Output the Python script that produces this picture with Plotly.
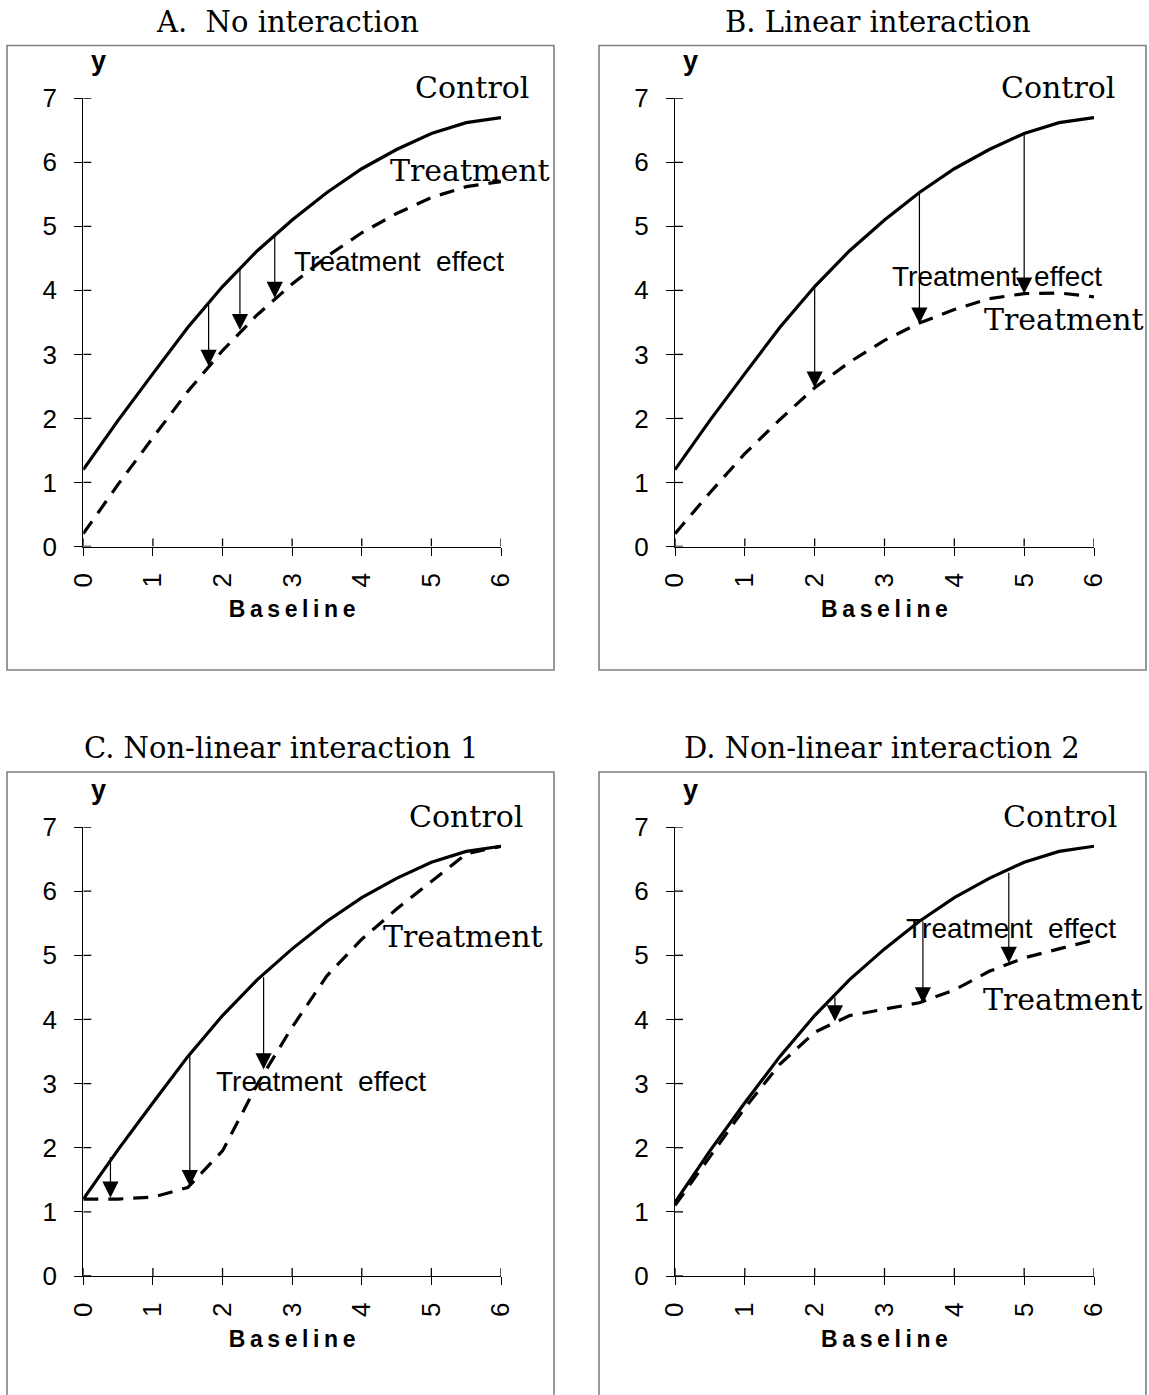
import plotly.graph_objects as go

# ---------------- data ----------------
baseline = [0, 0.5, 1, 1.5, 2, 2.5, 3, 3.5, 4, 4.5, 5, 5.5, 6]
control = [1.2, 1.97, 2.7, 3.42, 4.06, 4.62, 5.1, 5.53, 5.9, 6.2, 6.45, 6.62, 6.7]
control_d = [1.15, 1.95, 2.7, 3.42, 4.06, 4.62, 5.1, 5.53, 5.9, 6.2, 6.45, 6.62, 6.7]

treat_a = [0.2, 0.97, 1.7, 2.42, 3.06, 3.62, 4.1, 4.53, 4.9, 5.2, 5.45, 5.62, 5.7]
treat_b = [0.2, 0.84, 1.45, 1.98, 2.48, 2.88, 3.22, 3.49, 3.7, 3.87, 3.95, 3.96, 3.9]
treat_c = [1.2, 1.2, 1.23, 1.38, 1.95, 2.99, 3.88, 4.68, 5.25, 5.72, 6.15, 6.58, 6.7]
treat_d = [1.1, 1.86, 2.62, 3.3, 3.8, 4.06, 4.16, 4.26, 4.46, 4.75, 4.96, 5.1, 5.24]

# arrows: x position, start (control), tip (treatment)
arrows_a_x = [1.8, 2.25, 2.75]
arrows_a_top = [3.82, 4.36, 4.86]
arrows_a_tip = [2.82, 3.38, 3.88]

arrows_b_x = [2.0, 3.5, 5.0]
arrows_b_top = [4.06, 5.55, 6.45]
arrows_b_tip = [2.48, 3.48, 3.95]

arrows_c_x = [0.39, 1.53, 2.59]
arrows_c_top = [1.88, 3.47, 4.68]
arrows_c_tip = [1.22, 1.4, 3.22]

arrows_d_x = [2.29, 3.55, 4.78]
arrows_d_top = [4.37, 5.55, 6.31]
arrows_d_tip = [3.97, 4.25, 4.88]

titles = ["A.  No interaction", "B. Linear interaction",
          "C. Non-linear interaction 1", "D. Non-linear interaction 2"]
x_ticks = [0, 1, 2, 3, 4, 5, 6]
y_ticks = [0, 1, 2, 3, 4, 5, 6, 7]
Y_MAX = 7

panels = [
    dict(ctrl=control, trt=treat_a, ax=arrows_a_x, at=arrows_a_top, ap=arrows_a_tip,
         ctrl_lbl=(5.58, 7.17), trt_lbl=(5.55, 5.87), eff_lbl=(3.0, 4.45)),
    dict(ctrl=control, trt=treat_b, ax=arrows_b_x, at=arrows_b_top, ap=arrows_b_tip,
         ctrl_lbl=(5.48, 7.17), trt_lbl=(5.57, 3.55), eff_lbl=(3.08, 4.22)),
    dict(ctrl=control, trt=treat_c, ax=arrows_c_x, at=arrows_c_top, ap=arrows_c_tip,
         ctrl_lbl=(5.5, 7.17), trt_lbl=(5.46, 5.29), eff_lbl=(1.88, 3.04)),
    dict(ctrl=control_d, trt=treat_d, ax=arrows_d_x, at=arrows_d_top, ap=arrows_d_tip,
         ctrl_lbl=(5.52, 7.17), trt_lbl=(5.55, 4.31), eff_lbl=(3.28, 5.42)),
]

# ---------------- layout geometry ----------------
W, H = 1149, 1395
x_domains = [(83.3, 501), (675, 1094), (83.3, 501), (675, 1094)]
y_domains = [(546.5, 98.3), (546.5, 98.3), (1276, 827), (1276, 827)]
boxes = [(7, 45.5, 554, 670), (599, 45.5, 1146, 670), (7, 772, 554, 1400), (599, 772, 1146, 1400)]
title_pos = [(287, 22), (878, 22), (281, 748), (882, 748)]

SERIF = "DejaVu Serif"
SANS = "Liberation Sans, Arial"

fig = go.Figure()
shapes = []
annotations = []

for i, p in enumerate(panels):
    n = "" if i == 0 else str(i + 1)
    xr, yr = "x" + n, "y" + n
    fig.add_trace(go.Scatter(x=baseline, y=p["ctrl"], mode="lines", xaxis=xr, yaxis=yr,
                             line=dict(color="black", width=3.2), showlegend=False,
                             hoverinfo="skip"))
    fig.add_trace(go.Scatter(x=baseline, y=p["trt"], mode="lines", xaxis=xr, yaxis=yr,
                             line=dict(color="black", width=3.2, dash="15px,10px"),
                             showlegend=False, hoverinfo="skip"))

    xd = x_domains[i]
    yd = y_domains[i]
    common = dict(showgrid=False, zeroline=False, showline=True, linecolor="black",
                  linewidth=1.3, ticks="outside", ticklen=8, tickwidth=1.3,
                  tickcolor="black", automargin=False,
                  tickfont=dict(family=SANS, size=26, color="black"))
    fig.update_layout(**{
        "xaxis" + n: dict(domain=[xd[0] / W, xd[1] / W], range=[0, 6], anchor=yr,
                          tickvals=x_ticks, tickangle=-90, ticklabelstandoff=7,
                          title=dict(text="<b>B\u2009a\u2009s\u2009e\u2009l\u2009i\u2009n\u2009e</b>",
                                     font=dict(family=SANS, size=23, color="black"),
                                     standoff=14), **common),
        "yaxis" + n: dict(domain=[(H - yd[0]) / H, (H - yd[1]) / H], range=[0, Y_MAX],
                          anchor=xr, tickvals=y_ticks, ticklabelstandoff=12, **common),
    })

    # inner halves of the crossing tick marks
    for t in y_ticks:
        shapes.append(dict(type="line", xref=xr, yref=yr, xsizemode="pixel", xanchor=0,
                           x0=0, x1=8, y0=t, y1=t, line=dict(color="black", width=1.3)))
    for t in x_ticks:
        shapes.append(dict(type="line", xref=xr, yref=yr, ysizemode="pixel", yanchor=0,
                           y0=0, y1=8, x0=t, x1=t, line=dict(color="black", width=1.3)))

    # panel frame
    bx = boxes[i]
    shapes.append(dict(type="rect", xref="paper", yref="paper",
                       x0=bx[0] / W, x1=bx[2] / W, y0=(H - bx[3]) / H, y1=(H - bx[1]) / H,
                       line=dict(color="#808080", width=1.6), fillcolor="rgba(0,0,0,0)"))

    # panel title
    tp = title_pos[i]
    annotations.append(dict(text=titles[i], xref="paper", yref="paper", x=tp[0] / W,
                            y=(H - tp[1]) / H, showarrow=False, xanchor="center",
                            yanchor="middle", font=dict(family=SERIF, size=29, color="black")))
    # y label
    annotations.append(dict(text="<b>y</b>", xref=xr + " domain", yref=yr + " domain",
                            x=0, y=1, xshift=15, yshift=37, showarrow=False,
                            xanchor="center", yanchor="middle",
                            font=dict(family=SANS, size=27, color="black")))
    # curve labels (y given in data units, placed on the domain scale)
    yd_ref = yr + " domain"
    annotations.append(dict(text="Control", xref=xr, yref=yd_ref, x=p["ctrl_lbl"][0],
                            y=p["ctrl_lbl"][1] / Y_MAX, showarrow=False, xanchor="center",
                            yanchor="middle", font=dict(family=SERIF, size=30, color="black")))
    annotations.append(dict(text="Treatment", xref=xr, yref=yd_ref, x=p["trt_lbl"][0],
                            y=p["trt_lbl"][1] / Y_MAX, showarrow=False, xanchor="center",
                            yanchor="middle", font=dict(family=SERIF, size=30, color="black")))
    annotations.append(dict(text="Treatment\u00a0 effect", xref=xr, yref=yd_ref,
                            x=p["eff_lbl"][0], y=p["eff_lbl"][1] / Y_MAX, showarrow=False,
                            xanchor="left", yanchor="middle",
                            font=dict(family=SANS, size=28, color="black")))
    # arrows
    for ax_, top_, tip_ in zip(p["ax"], p["at"], p["ap"]):
        annotations.append(dict(text="", xref=xr, yref=yr, x=ax_, y=tip_,
                                axref=xr, ayref=yr, ax=ax_, ay=top_, showarrow=True,
                                arrowhead=2, arrowsize=2.7, arrowwidth=1.2,
                                arrowcolor="black", standoff=0, startstandoff=0))

fig.update_layout(template="none", width=W, height=H, margin=dict(l=0, r=0, t=0, b=0),
                  paper_bgcolor="white", plot_bgcolor="white",
                  shapes=shapes, annotations=annotations, showlegend=False)

fig.write_html("out.html")
